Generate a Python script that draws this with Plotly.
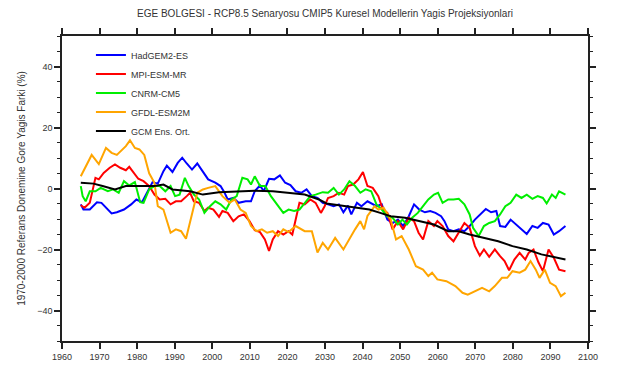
import plotly.graph_objects as go

# HadGEM2-ES
had_years = [1965, 1965.7, 1967.4, 1969.3, 1970.5, 1971.7, 1973.2, 1974.6, 1976.5, 1978.4, 1979.8,
             1981.3, 1982.7, 1984.1, 1985.5, 1987, 1987.9, 1989.4, 1990.8, 1992, 1993.2, 1994.6,
             1996, 1997.5, 1998.9, 2000.8, 2002.2, 2003.2, 2004.1, 2005.6, 2007, 2008.9, 2010.3,
             2011.3, 2012.7, 2013.7, 2015.1, 2016.5, 2018, 2019.4, 2020.8, 2022.2, 2023.7, 2025.1,
             2026.5, 2028, 2029.4, 2030.8, 2032.3, 2033.7, 2034.9, 2036.1, 2037, 2038.5, 2039.7,
             2041.3, 2042.3, 2043.7, 2045.1, 2046.6, 2048, 2049.4, 2050.8, 2052.3, 2053.7, 2055.1,
             2056.6, 2058, 2059.4, 2060.9, 2061.8, 2062.8, 2064.2, 2065.6, 2067.1, 2068.5, 2069.9,
             2071.3, 2072.8, 2074.2, 2075.6, 2076.6, 2078, 2079.4, 2080.9, 2082.3, 2083.7, 2085.2,
             2086.6, 2088, 2089.5, 2090.9, 2092.3, 2094]
had_vals = [-5.2, -6.9, -6.9, -4.5, -4.7, -6.3, -8.2, -7.8, -6.9, -5.2, -3.6,
            -4.5, -1.4, 2.1, 1.6, 5.7, 7.5, 5.4, 8.4, 10.1, 8.2, 6.2,
            8.2, 5.7, 3.0, 1.9, 0.8, -1.2, -3.6, -3.1, -4.7, -4.2, -4.2,
            -0.9, 1.0, -0.9, 3.2, 3.0, 4.3, 1.9, 1.1, -0.9, -1.4, -0.3,
            -2.5, -3.1, -4.7, -5.2, -5.8, -5.2, -7.8, -5.6, -8.5, -4.7, -5.8,
            -4.2, -4.9, -5.8, -5.2, -10.2, -11.3, -10.2, -12.3, -9.1, -5.2, -6.9,
            -7.8, -7.4, -8.0, -9.1, -10.7, -13.4, -14.0, -13.4, -14.0, -12.3, -10.2,
            -8.5, -6.7, -7.8, -7.4, -12.3, -12.6, -10.2, -11.8, -13.4, -14.9, -12.3,
            -12.9, -11.3, -11.8, -15.1, -14.0, -12.3]

# MPI-ESM-MR
mpi_years = [1965, 1966, 1967.4, 1968.9, 1969.8, 1971.1, 1972.7, 1974.1, 1975.5, 1977, 1977.9,
             1979.4, 1980.3, 1981.7, 1983.2, 1984.6, 1986, 1987.5, 1988.9, 1990.3, 1991.7, 1993.2,
             1994.1, 1995.1, 1996.5, 1997.9, 1998.9, 2000.3, 2001.8, 2002.7, 2004.1, 2005.6, 2007,
             2008.4, 2009.9, 2011.3, 2012.7, 2014, 2015.1, 2016.1, 2017.5, 2018.9, 2020.3, 2021.3,
             2022.2, 2023.2, 2024.6, 2026.1, 2027.5, 2028.9, 2029.9, 2030.8, 2032.3, 2033.7, 2035.1,
             2036.1, 2037.5, 2038.9, 2040.1, 2041.3, 2042.7, 2044.2, 2045.4, 2046.6, 2048, 2049.4,
             2050.8, 2052.3, 2053.7, 2054.9, 2056.1, 2057.5, 2059, 2059.9, 2061.3, 2062.8, 2064.2,
             2065.6, 2067.1, 2068.5, 2069.9, 2071.2, 2072.3, 2073.7, 2075.2, 2076.6, 2077.8, 2079,
             2080.4, 2081.8, 2083.3, 2084.2, 2085.5, 2086.8, 2088, 2089.5, 2090.9, 2092.3, 2094]
mpi_vals = [-5.5, -6.3, -4.7, 3.5, 3.0, 5.1, 6.8, 7.9, 6.8, 6.0, 7.1,
            4.6, 3.2, 2.4, 0.8, -2.0, -3.6, -3.4, -5.2, -4.2, -4.2, -2.5,
            -1.4, -4.2, -4.7, -7.4, -6.3, -6.9, -9.3, -7.4, -8.0, -10.7, -9.1,
            -8.5, -10.7, -13.7, -14.3, -16.7, -20.5, -16.7, -14.0, -15.1, -14.0, -15.1,
            -10.2, -4.7, -5.2, -3.6, -4.7, -8.0, -5.8, -3.1, -2.5, -1.4, -2.0,
            0.8, 1.3, 3.0, 5.4, 0.8, 0.2, -2.5, -6.9, -8.0, -13.4, -10.7,
            -13.4, -9.6, -10.7, -14.5, -16.7, -10.7, -12.3, -10.7, -12.3, -15.6, -17.3,
            -14.5, -11.3, -12.9, -18.9, -22.0, -20.0, -22.4, -20.0, -22.2, -23.8, -26.8,
            -23.3, -21.1, -23.3, -21.1, -20.0, -24.2, -27.1, -20.0, -22.7, -26.6, -27.1]

# CNRM-CM5
cnrm_years = [1965, 1965.5, 1966.3, 1967.4, 1968.9, 1970.3, 1972.2, 1973.6, 1975.1, 1976.5, 1977.9,
              1979.4, 1980.8, 1981.7, 1983.2, 1984.6, 1986, 1987.5, 1988.9, 1990.1, 1991.3, 1992.7,
              1993.7, 1995.1, 1996.5, 1997.9, 1999.4, 2000.8, 2002.2, 2003.7, 2005.1, 2006.5, 2008,
              2009.4, 2010.3, 2011.3, 2012.7, 2014.1, 2015.6, 2017, 2018.9, 2020.3, 2021.8, 2023.2,
              2024.6, 2026.1, 2027.5, 2029.4, 2030.8, 2032.3, 2033.7, 2035.1, 2036.5, 2038, 2039.4,
              2040.8, 2042.3, 2043.7, 2045.1, 2046.6, 2048, 2049.4, 2050.6, 2051.8, 2053.2, 2054.7,
              2056.1, 2057.5, 2059, 2060.1, 2061.3, 2062.8, 2064.2, 2065.6, 2067.1, 2068.5, 2069.4,
              2070.9, 2072.3, 2073.7, 2075.2, 2076.6, 2078, 2079.4, 2080.9, 2082.3, 2083.7, 2085.2,
              2086.6, 2088, 2089, 2090.4, 2091.4, 2092.3, 2094]
cnrm_vals = [0.8, -2.5, -4.2, -0.9, -0.9, 0.2, -0.9, -0.3, -1.4, 2.4, 1.0,
             2.1, -4.5, -4.7, -0.3, 0.8, 0.8, -0.9, 0.8, -2.5, -2.0, 3.5,
             0.8, -2.0, -3.6, -8.0, -5.8, -4.2, -5.2, -6.9, -3.6, -2.5, 3.5,
             3.0, 1.3, 4.0, 0.8, 0.8, -2.5, -4.7, -8.0, -6.9, -7.4, -6.9,
             -4.7, -2.5, -2.0, -1.2, -1.4, 0.2, -2.0, -0.3, 2.4, 0.8, -1.4,
             -0.3, -0.9, -5.2, -6.9, -9.1, -9.6, -11.8, -10.2, -11.8, -9.6, -8.0,
             -5.8, -3.6, -2.0, -1.4, -4.7, -3.6, -3.6, -3.4, -5.2, -8.5, -12.9,
             -15.6, -12.3, -11.3, -10.7, -8.5, -5.8, -4.7, -2.0, -3.1, -2.0, -3.4,
             -2.5, -3.1, -4.9, -2.0, -3.1, -0.9, -2.0]

# GFDL-ESM2M
gfdl_years = [1965, 1967.9, 1969.8, 1971.7, 1973.2, 1974.6, 1977, 1978.1, 1979.4, 1980.6, 1981.9,
              1983.2, 1984.6, 1985.5, 1987, 1988.9, 1990.3, 1991.7, 1993, 1993.9, 1994.9, 1996,
              1997.5, 1998.9, 2000.8, 2002.7, 2004.6, 2006, 2007.5, 2008.9, 2010.3, 2011.8, 2013.2,
              2014.6, 2016.1, 2017.5, 2018.9, 2020.3, 2022.2, 2024.6, 2026.5, 2028, 2029.4, 2030.8,
              2032.7, 2034.9, 2036.1, 2038, 2039.4, 2040.4, 2041.3, 2043.2, 2044.2, 2045.6, 2047.5,
              2048.9, 2050.4, 2052.3, 2054.2, 2056.1, 2057.5, 2058.5, 2059.9, 2062.3, 2064.7, 2066.6,
              2068, 2069.9, 2071.8, 2073.7, 2075.2, 2077.1, 2078.5, 2079.9, 2081.8, 2083.3, 2084.7,
              2086.1, 2087.1, 2088.5, 2089.9, 2091.4, 2092.8, 2094]
gfdl_vals = [4.0, 11.0, 8.0, 13.3, 11.7, 11.0, 13.9, 15.8, 13.3, 12.8, 11.0,
             5.0, 1.9, -5.8, -6.9, -14.5, -13.4, -14.0, -16.5, -12.3, -6.9, -1.4,
             -0.3, 0.2, 0.8, -2.5, -4.7, -3.6, -6.9, -8.0, -12.3, -14.0, -13.4,
             -14.5, -14.0, -15.6, -13.4, -14.3, -12.3, -14.0, -14.0, -21.0, -17.8, -20.0,
             -16.2, -20.0, -17.3, -13.4, -10.7, -13.4, -9.0, -5.8, -6.9, -6.3, -10.2,
             -16.7, -15.6, -20.0, -25.5, -26.6, -28.7, -27.6, -29.8, -30.4, -32.0, -34.2,
             -34.8, -33.7, -32.6, -33.7, -32.0, -29.3, -29.3, -27.1, -27.6, -26.6, -23.8,
             -26.6, -29.3, -26.6, -30.9, -32.0, -35.3, -34.2]

# GCM ensemble mean
ens_years = [1965, 1968.4, 1970.8, 1974.1, 1977, 1980.8, 1984.6, 1987, 1989.4, 1994.1, 1997.5,
             2001.8, 2006, 2011.3, 2016.1, 2020.8, 2024.6, 2028.4, 2030.4, 2034.2, 2038, 2041.8,
             2044.7, 2047.5, 2051.3, 2055.1, 2059, 2062.8, 2065.6, 2068.5, 2072.3, 2076.1, 2079.9,
             2083.7, 2087.6, 2091.4, 2094]
ens_vals = [1.9, 1.6, 0.8, -0.3, 0.8, 0.8, 0.8, 1.3, -0.3, -0.9, -2.0,
            -1.2, -0.9, -0.7, -0.9, -1.6, -2.0, -3.6, -4.9, -5.6, -6.3, -6.9,
            -8.0, -9.1, -9.6, -10.7, -11.8, -14.0, -14.0, -15.1, -16.2, -17.3, -18.9,
            -20.0, -21.6, -22.7, -23.3]

series = [
    ("HadGEM2-ES", had_years, had_vals, "#0000ff", 2),
    ("MPI-ESM-MR", mpi_years, mpi_vals, "#ff0000", 2),
    ("CNRM-CM5", cnrm_years, cnrm_vals, "#00ee00", 2),
    ("GFDL-ESM2M", gfdl_years, gfdl_vals, "#ffa500", 2),
    ("GCM Ens. Ort.", ens_years, ens_vals, "#000000", 2),
]

x_ticks = list(range(1960, 2101, 10))
y_ticks = [-40, -20, 0, 20, 40]

fig = go.Figure()
for name, yrs, vals, color, w in series:
    fig.add_trace(go.Scatter(x=yrs, y=vals, mode="lines", name=name,
                             line=dict(color=color, width=w)))

font_family = "Liberation Sans, Arial, sans-serif"
axis_common = dict(showline=True, linecolor="#222", linewidth=1.5, mirror="ticks",
                   ticks="outside", tickcolor="#222", tickwidth=1.5, showgrid=False,
                   zeroline=False, tickfont=dict(size=9, color="#333", family=font_family))

fig.update_xaxes(range=[1960, 2100], tickvals=x_ticks, ticklen=6, **axis_common)
fig.update_yaxes(range=[-50, 50], tickvals=y_ticks, ticklen=6,
                 minor=dict(dtick=5, ticks="outside", ticklen=3, tickcolor="#222", tickwidth=1),
                 title=dict(text="1970-2000 Referans Donemine Gore Yagis Farki (%)",
                            font=dict(size=10, color="#333", family=font_family), standoff=10),
                 **axis_common)

fig.update_layout(
    width=617, height=374,
    margin=dict(l=62, r=29, t=36, b=30),
    plot_bgcolor="white", paper_bgcolor="white",
    title=dict(text="EGE BOLGESI - RCP8.5 Senaryosu CMIP5 Kuresel Modellerin Yagis Projeksiyonlari",
               x=0.5, xref="paper", xanchor="center", y=0.965, yanchor="middle",
               font=dict(size=10, color="#333", family=font_family)),
    legend=dict(x=0.055, y=0.985, xanchor="left", yanchor="top", bgcolor="rgba(0,0,0,0)",
                font=dict(size=9, color="#333", family=font_family), itemwidth=30,
                tracegroupgap=0),
    showlegend=True,
)

fig.write_html("out.html")
